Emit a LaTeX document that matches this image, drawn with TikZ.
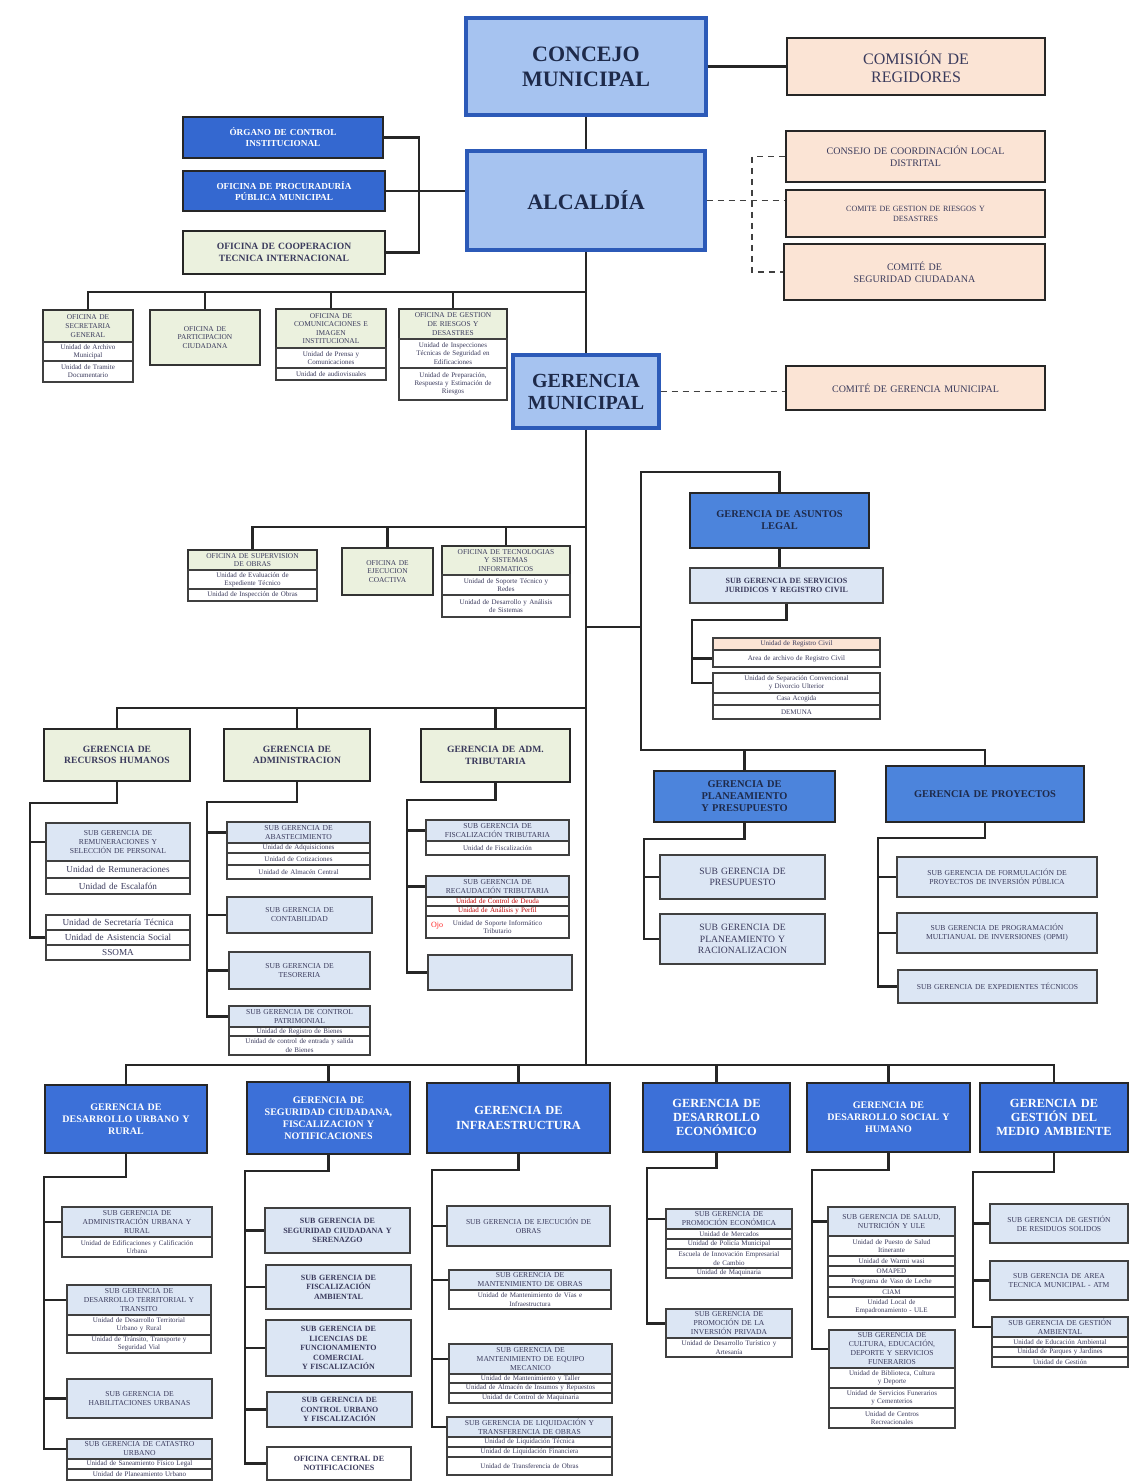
\documentclass[tikz,border=0pt]{standalone}
\usepackage{fontspec}
\setmainfont{Liberation Serif}
\usetikzlibrary{calc}
\definecolor{topfill}{HTML}{A6C3F0}
\definecolor{topedge}{HTML}{2C5AB8}
\definecolor{navy}{HTML}{1E2A4A}
\definecolor{dkblue}{HTML}{3468D0}
\definecolor{midblue}{HTML}{4C84DC}
\definecolor{gblue}{HTML}{3C70D8}
\definecolor{peach}{HTML}{FBE4D5}
\definecolor{cream}{HTML}{EBF1DE}
\definecolor{ltblue}{HTML}{DCE6F4}
\definecolor{txt}{HTML}{3A3A5C}
\newcommand\bx[7]{%
  \pgfmathsetmacro\bxw{(#5-#3)*0.5}%
  \pgfmathsetmacro\bxh{(#6-#4)*0.5}%
  \node[#1, minimum width=\bxw pt, minimum height=\bxh pt, text width=\bxw pt-2pt] (#2) at ({(#3+#5)/2},{(#4+#6)/2}) {#7};}
\tikzset{
  conn/.style={line width=1.4pt, draw=black!85},
  dsh/.style={line width=0.8pt, draw=black!75, dash pattern=on 3pt off 2.5pt},
  base/.style={draw, align=center, inner xsep=1pt, inner ysep=0pt},
  topb/.style={base, fill=topfill, draw=topedge, line width=1.6pt, text=navy, font=\bfseries\fontsize{11}{12.5}\selectfont},
  topm/.style={topb, font=\bfseries\fontsize{10}{11}\selectfont},
  dkb/.style={base, fill=dkblue, draw=black!85, line width=1.3pt, text=white, font=\bfseries\fontsize{4.6}{5.6}\selectfont},
  pch/.style={base, fill=peach, draw=black!85, line width=1.3pt, text=txt, font=\fontsize{5}{6.2}\selectfont},
  pchL/.style={pch, font=\fontsize{8}{9}\selectfont},
  pchS/.style={pch, font=\fontsize{4}{5}\selectfont},
  crm/.style={base, fill=cream, draw=black!85, line width=1.2pt, text=txt, font=\bfseries\fontsize{4.8}{5.8}\selectfont},
  crs/.style={base, fill=cream, draw=black!80, line width=0.8pt, text=txt, font=\fontsize{3.7}{4.3}\selectfont},
  lb/.style={base, fill=ltblue, draw=black!75, line width=0.9pt, text=txt, font=\fontsize{3.8}{4.5}\selectfont},
  lbM/.style={lb, font=\fontsize{4.8}{5.8}\selectfont},
  lbb/.style={lb, font=\bfseries\fontsize{4}{4.8}\selectfont},
  un/.style={base, fill=white, draw=black!75, line width=0.6pt, text=txt, font=\fontsize{3.5}{4.1}\selectfont},
  unL/.style={un, font=\fontsize{4.6}{5.4}\selectfont},
  mb/.style={base, fill=midblue, draw=black!85, line width=1.4pt, text=navy, font=\bfseries\fontsize{5.2}{6}\selectfont},
  gb/.style={base, fill=gblue, draw=black!85, line width=1.4pt, text=white, font=\bfseries\fontsize{5}{6}\selectfont},
  gbL/.style={gb, font=\bfseries\fontsize{6.2}{7.2}\selectfont},
}
\begin{document}
\begin{tikzpicture}[x=0.5pt,y=-0.5pt]
\useasboundingbox (0,0) rectangle (1130,1482);
\fill[white] (0,0) rectangle (1130,1482);

% ---- top level
\bx{topb}{con}{466}{18}{706}{115}{CONCEJO\\MUNICIPAL}
\bx{pchL}{com}{787}{38}{1045}{95}{COMISIÓN DE\\REGIDORES}
\bx{topb}{alc}{467}{151}{705}{250}{ALCALDÍA}
\bx{dkb}{org}{183}{117}{383}{158}{ÓRGANO DE CONTROL\\INSTITUCIONAL}
\bx{dkb}{proc}{183}{171}{385}{211}{OFICINA DE PROCURADURÍA\\PÚBLICA MUNICIPAL}
\bx{crm}{coop}{183}{231}{385}{274}{OFICINA DE COOPERACION\\TECNICA INTERNACIONAL}
\bx{pch}{ccl}{786}{131}{1045}{182}{CONSEJO DE COORDINACIÓN LOCAL\\DISTRITAL}
\bx{pchS}{cgr}{786}{190}{1045}{237}{COMITE DE GESTION DE RIESGOS Y\\DESASTRES}
\bx{pch}{csc}{784}{244}{1045}{300}{COMITÉ DE\\SEGURIDAD CIUDADANA}

% ---- offices under alcaldia
\bx{crs}{sec}{43}{310}{133}{342}{OFICINA DE\\SECRETARIA\\GENERAL}
\bx{un}{sec1}{43}{342}{133}{361}{Unidad de Archivo\\Municipal}
\bx{un}{sec2}{43}{361}{133}{382}{Unidad de Tramite\\Documentario}
\bx{crs}{par}{150}{310}{260}{365}{OFICINA DE\\PARTICIPACION\\CIUDADANA}
\bx{crs}{ci}{276}{309}{386}{348}{OFICINA DE\\COMUNICACIONES E\\IMAGEN\\INSTITUCIONAL}
\bx{un}{ci1}{276}{348}{386}{368}{Unidad de Prensa y\\Comunicaciones}
\bx{un}{ci2}{276}{368}{386}{380}{Unidad de audiovisuales}
\bx{crs}{grd}{399}{309}{507}{339}{OFICINA DE GESTION\\DE RIESGOS Y\\DESASTRES}
\bx{un}{grd1}{399}{339}{507}{368}{Unidad de Inspecciones\\Técnicas de Seguridad en\\Edificaciones}
\bx{un}{grd2}{399}{368}{507}{400}{Unidad de Preparación,\\Respuesta y Estimación de\\Riesgos}

\bx{topm}{gm}{513}{355}{659}{428}{GERENCIA\\MUNICIPAL}
\bx{pch}{cgm}{786}{366}{1045}{410}{COMITÉ DE GERENCIA MUNICIPAL}

% ---- offices under gerencia municipal
\bx{crs}{sup}{188}{550}{317}{570}{OFICINA DE SUPERVISION\\DE OBRAS}
\bx{un}{sup1}{188}{570}{317}{589}{Unidad de Evaluación de\\Expediente Técnico}
\bx{un}{sup2}{188}{589}{317}{601}{Unidad de Inspección de Obras}
\bx{crs}{eco}{342}{548}{433}{595}{OFICINA DE\\EJECUCION\\COACTIVA}
\bx{crs}{tec}{442}{546}{570}{575}{OFICINA DE TECNOLOGIAS\\Y SISTEMAS\\INFORMATICOS}
\bx{un}{tec1}{442}{575}{570}{595}{Unidad de Soporte Técnico y\\Redes}
\bx{un}{tec2}{442}{595}{570}{617}{Unidad de Desarrollo y Análisis\\de Sistemas}

% ---- asuntos legales
\bx{mb}{leg}{690}{493}{869}{548}{GERENCIA DE ASUNTOS\\LEGAL}
\bx{lbb}{sjr}{690}{568}{883}{603}{SUB GERENCIA DE SERVICIOS\\JURIDICOS Y REGISTRO CIVIL}
\bx{un, fill=peach}{rc}{713}{638}{880}{650}{Unidad de Registro Civil}
\bx{un}{arc}{713}{650}{880}{667}{Area de archivo de Registro Civil}
\bx{un}{usc}{713}{673}{880}{693}{Unidad de Separación Convencional\\y Divorcio Ulterior}
\bx{un}{cas}{713}{693}{880}{705}{Casa Acogida}
\bx{un}{dem}{713}{705}{880}{719}{DEMUNA}

% ---- recursos humanos
\bx{crm}{rh}{44}{729}{190}{781}{GERENCIA DE\\RECURSOS HUMANOS}
\bx{lb}{rem}{46}{823}{190}{861}{SUB GERENCIA DE\\REMUNERACIONES Y\\SELECCIÓN DE PERSONAL}
\bx{unL}{rem1}{46}{861}{190}{878}{Unidad de Remuneraciones}
\bx{unL}{rem2}{46}{878}{190}{894}{Unidad de Escalafón}
\bx{unL}{st}{46}{915}{190}{930}{Unidad de Secretaría Técnica}
\bx{unL}{as}{46}{930}{190}{945}{Unidad de Asistencia Social}
\bx{unL}{ss}{46}{945}{190}{960}{SSOMA}

% ---- administracion
\bx{crm}{adm}{224}{729}{370}{781}{GERENCIA DE\\ADMINISTRACION}
\bx{lb}{ab}{227}{822}{370}{843}{SUB GERENCIA DE\\ABASTECIMIENTO}
\bx{un}{ab1}{227}{843}{370}{853}{Unidad de Adquisiciones}
\bx{un}{ab2}{227}{853}{370}{865}{Unidad de Cotizaciones}
\bx{un}{ab3}{227}{865}{370}{879}{Unidad de Almacén Central}
\bx{lb}{cont}{227}{897}{372}{933}{SUB GERENCIA DE\\CONTABILIDAD}
\bx{lb}{tes}{229}{952}{370}{989}{SUB GERENCIA DE\\TESORERIA}
\bx{lb}{cp}{229}{1006}{370}{1027}{SUB GERENCIA DE CONTROL\\PATRIMONIAL}
\bx{un}{cp1}{229}{1027}{370}{1036}{Unidad de Registro de Bienes}
\bx{un}{cp2}{229}{1036}{370}{1055}{Unidad de control de entrada y salida\\de Bienes}

% ---- tributaria
\bx{crm}{trib}{421}{729}{570}{782}{GERENCIA DE ADM.\\TRIBUTARIA}
\bx{lb}{ft}{426}{820}{569}{841}{SUB GERENCIA DE\\FISCALIZACIÓN TRIBUTARIA}
\bx{un}{ft1}{426}{841}{569}{855}{Unidad de Fiscalización}
\bx{lb}{rtr}{426}{876}{569}{897}{SUB GERENCIA DE\\RECAUDACIÓN TRIBUTARIA}
\bx{un, text=red!75!black}{rt1}{426}{897}{569}{906}{Unidad de Control de Deuda}
\bx{un, text=red!75!black}{rt2}{426}{906}{569}{916}{Unidad de Análisis y Perfil}
\bx{un}{rt3}{426}{916}{569}{938}{Unidad de Soporte Informático\\Tributario}
\node[font=\fontsize{4}{5}\selectfont, text=red!85, inner sep=0pt] (ojo) at (437,926) {Ojo};
\bx{lb}{emp}{428}{955}{572}{990}{}

% ---- planeamiento / proyectos
\bx{mb}{plan}{654}{771}{835}{822}{GERENCIA DE\\PLANEAMIENTO\\Y PRESUPUESTO}
\bx{lbM}{pre}{660}{855}{825}{899}{SUB GERENCIA DE\\PRESUPUESTO}
\bx{lbM}{rac}{660}{914}{825}{964}{SUB GERENCIA DE\\PLANEAMIENTO Y\\RACIONALIZACION}
\bx{mb}{proy}{886}{766}{1084}{822}{GERENCIA DE PROYECTOS}
\bx{lb}{fpi}{897}{857}{1097}{897}{SUB GERENCIA DE FORMULACIÓN DE\\PROYECTOS DE INVERSIÓN PÚBLICA}
\bx{lb}{opmi}{897}{913}{1097}{953}{SUB GERENCIA DE PROGRAMACIÓN\\MULTIANUAL DE INVERSIONES (OPMI)}
\bx{lb}{exp}{898}{970}{1097}{1003}{SUB GERENCIA DE EXPEDIENTES TÉCNICOS}

% ---- bottom gerencias
\bx{gb}{dur}{45}{1085}{207}{1153}{GERENCIA DE\\DESARROLLO URBANO Y\\RURAL}
\bx{gb}{seg}{247}{1082}{410}{1154}{GERENCIA DE\\SEGURIDAD CIUDADANA,\\FISCALIZACION Y\\NOTIFICACIONES}
\bx{gbL}{inf}{427}{1083}{610}{1153}{GERENCIA DE\\INFRAESTRUCTURA}
\bx{gbL}{dec}{643}{1083}{790}{1152}{GERENCIA DE\\DESARROLLO\\ECONÓMICO}
\bx{gb}{dsh}{807}{1083}{970}{1152}{GERENCIA DE\\DESARROLLO SOCIAL Y\\HUMANO}
\bx{gbL}{gma}{980}{1083}{1128}{1152}{GERENCIA DE\\GESTIÓN DEL\\MEDIO AMBIENTE}

% col 1
\bx{lb}{aur}{62}{1207}{212}{1237}{SUB GERENCIA DE\\ADMINISTRACIÓN URBANA Y\\RURAL}
\bx{un}{aur1}{62}{1237}{212}{1257}{Unidad de Edificaciones y Calificación\\Urbana}
\bx{lb}{dtt}{67}{1285}{211}{1315}{SUB GERENCIA DE\\DESARROLLO TERRITORIAL Y\\TRANSITO}
\bx{un}{dtt1}{67}{1315}{211}{1335}{Unidad de Desarrollo Territorial\\Urbano y Rural}
\bx{un}{dtt2}{67}{1335}{211}{1353}{Unidad de Tránsito, Transporte y\\Seguridad Vial}
\bx{lb}{hab}{67}{1379}{212}{1418}{SUB GERENCIA DE\\HABILITACIONES URBANAS}
\bx{lb}{cat}{67}{1439}{212}{1459}{SUB GERENCIA DE CATASTRO\\URBANO}
\bx{un}{cat1}{67}{1459}{212}{1469}{Unidad de Saneamiento Físico Legal}
\bx{un}{cat2}{67}{1469}{212}{1480}{Unidad de Planeamiento Urbano}

% col 2
\bx{lbb}{ser}{265}{1208}{410}{1253}{SUB GERENCIA DE\\SEGURIDAD CIUDADANA Y\\SERENAZGO}
\bx{lbb}{fam}{266}{1265}{411}{1309}{SUB GERENCIA DE\\FISCALIZACIÓN\\AMBIENTAL}
\bx{lbb}{lic}{266}{1320}{411}{1376}{SUB GERENCIA DE\\LICENCIAS DE\\FUNCIONAMIENTO\\COMERCIAL\\Y FISCALIZACIÓN}
\bx{lbb}{cur}{267}{1392}{412}{1427}{SUB GERENCIA DE\\CONTROL URBANO\\Y FISCALIZACIÓN}
\bx{lbb, fill=white}{ocn}{267}{1447}{411}{1480}{OFICINA CENTRAL DE\\NOTIFICACIONES}

% col 3
\bx{lb}{eob}{447}{1206}{610}{1246}{SUB GERENCIA DE EJECUCIÓN DE\\OBRAS}
\bx{lb}{mob}{449}{1270}{611}{1290}{SUB GERENCIA DE\\MANTENIMIENTO DE OBRAS}
\bx{un}{mob1}{449}{1290}{611}{1309}{Unidad de Mantenimiento de Vías e\\Infraestructura}
\bx{lb}{meq}{449}{1344}{612}{1374}{SUB GERENCIA DE\\MANTENIMIENTO DE EQUIPO\\MECANICO}
\bx{un}{meq1}{449}{1374}{612}{1383}{Unidad de Mantenimiento y Taller}
\bx{un}{meq2}{449}{1383}{612}{1393}{Unidad de Almacén de Insumos y Repuestos}
\bx{un}{meq3}{449}{1393}{612}{1403}{Unidad de Control de Maquinaria}
\bx{lb}{liq}{447}{1417}{612}{1437}{SUB GERENCIA DE LIQUIDACIÓN Y\\TRANSFERENCIA DE OBRAS}
\bx{un}{liq1}{447}{1437}{612}{1447}{Unidad de Liquidación Técnica}
\bx{un}{liq2}{447}{1447}{612}{1457}{Unidad de Liquidación Financiera}
\bx{un}{liq3}{447}{1457}{612}{1475}{Unidad de Transferencia de Obras}

% col 4
\bx{lb}{pec}{666}{1209}{792}{1229}{SUB GERENCIA DE\\PROMOCIÓN ECONÓMICA}
\bx{un}{pec1}{666}{1229}{792}{1239}{Unidad de Mercados}
\bx{un}{pec2}{666}{1239}{792}{1249}{Unidad de Policía Municipal}
\bx{un}{pec3}{666}{1249}{792}{1268}{Escuela de Innovación Empresarial\\de Cambio}
\bx{un}{pec4}{666}{1268}{792}{1278}{Unidad de Maquinaria}
\bx{lb}{pip}{666}{1309}{792}{1338}{SUB GERENCIA DE\\PROMOCIÓN DE LA\\INVERSIÓN PRIVADA}
\bx{un}{pip1}{666}{1338}{792}{1357}{Unidad de Desarrollo Turístico y\\Artesanía}

% col 5
\bx{lb}{sal}{828}{1207}{955}{1236}{SUB GERENCIA DE SALUD,\\NUTRICIÓN Y ULE}
\bx{un}{sal1}{828}{1236}{955}{1256}{Unidad de Puesto de Salud\\Itinerante}
\bx{un}{sal2}{828}{1256}{955}{1266}{Unidad de Warmi wasi}
\bx{un}{sal3}{828}{1266}{955}{1276}{OMAPED}
\bx{un}{sal4}{828}{1276}{955}{1287}{Programa de Vaso de Leche}
\bx{un}{sal5}{828}{1287}{955}{1297}{CIAM}
\bx{un}{sal6}{828}{1297}{955}{1317}{Unidad Local de\\Empadronamiento - ULE}
\bx{lb}{cul}{829}{1330}{955}{1368}{SUB GERENCIA DE\\CULTURA, EDUCACIÓN,\\DEPORTE Y SERVICIOS\\FUNERARIOS}
\bx{un}{cul1}{829}{1368}{955}{1388}{Unidad de Biblioteca, Cultura\\y Deporte}
\bx{un}{cul2}{829}{1388}{955}{1408}{Unidad de Servicios Funerarios\\y Cementerios}
\bx{un}{cul3}{829}{1408}{955}{1428}{Unidad de Centros\\Recreacionales}

% col 6
\bx{lb}{rso}{990}{1204}{1128}{1243}{SUB GERENCIA DE GESTIÓN\\DE RESIDUOS SOLIDOS}
\bx{lb}{atm}{990}{1261}{1128}{1300}{SUB GERENCIA DE AREA\\TECNICA MUNICIPAL - ATM}
\bx{lb}{gam}{992}{1317}{1128}{1337}{SUB GERENCIA DE GESTIÓN\\AMBIENTAL}
\bx{un}{gam1}{992}{1337}{1128}{1347}{Unidad de Educación Ambiental}
\bx{un}{gam2}{992}{1347}{1128}{1357}{Unidad de Parques y Jardines}
\bx{un}{gam3}{992}{1357}{1128}{1367}{Unidad de Gestión}

% ================= connectors
\coordinate (brk) at (419,0);
\coordinate (dv) at (752,0);
\coordinate (busO) at (586,292);
\coordinate (busM) at (586,527);
\coordinate (rj) at (586,627);
\coordinate (rtop) at (641,472);
\coordinate (rbot) at (641,750);
\coordinate (busL) at (586,708);
\coordinate (busB) at (586,1065);

\draw[conn] (con.east) -- (com.west);
\draw[conn] (con.south) -- (alc.north);
\draw[conn] (alc.south) -- (gm.north);
\draw[conn] (gm.south) -- (busB);
\draw[conn] (org.east) -| (brk |- coop.east) -- (coop.east);
\draw[conn] (proc.east) -- (proc.east -| alc.west);
\draw[dsh] (alc.east) -- (alc.east -| cgr.west);
\draw[dsh] (ccl.west) -| (dv |- csc.west) -- (csc.west);
\draw[dsh] (gm.east) -- (gm.east -| cgm.west);

\draw[conn] (sec.north) |- (busO);
\draw[conn] (par.north) -- (par.north |- busO);
\draw[conn] (ci.north) -- (ci.north |- busO);
\draw[conn] (grd.north) -- (grd.north |- busO);

\draw[conn] (sup.north) |- (busM);
\draw[conn] (eco.north) -- (eco.north |- busM);
\draw[conn] (tec.north) -- (tec.north |- busM);

\draw[conn] (rj) -- (rj -| rtop);
\draw[conn] (leg.north) |- (rtop) -- (rbot) -| (proy.north);
\draw[conn] (plan.north) -- (plan.north |- rbot);
\draw[conn] (leg.south) -- (leg.south |- sjr.north);
\coordinate (sjT) at (692,620);
\draw[conn] (sjr.south) |- (sjT) |- (usc.west);
\draw[conn] (arc.west -| sjT) -- (arc.west);

\draw[conn] (rh.north) |- (busL);
\draw[conn] (adm.north) -- (adm.north |- busL);
\draw[conn] (trib.north) -- (trib.north |- busL);

\coordinate (rhT) at (30,803);
\draw[conn] (rh.south) |- (rhT) |- (as.west);
\draw[conn] (rem.west -| rhT) -- (rem.west);
\coordinate (admT) at (207,802);
\draw[conn] (adm.south) |- (admT) |- (cp.west);
\foreach \n in {ab,cont,tes} \draw[conn] (\n.west -| admT) -- (\n.west);
\coordinate (trT) at (407,800);
\draw[conn] (trib.south) |- (trT) |- (emp.west);
\foreach \n in {ft,rtr} \draw[conn] (\n.west -| trT) -- (\n.west);
\coordinate (plT) at (644,839);
\draw[conn] (plan.south) |- (plT) |- (rac.west);
\draw[conn] (pre.west -| plT) -- (pre.west);
\coordinate (pyT) at (878,838);
\draw[conn] (proy.south) |- (pyT) |- (exp.west);
\foreach \n in {fpi,opmi} \draw[conn] (\n.west -| pyT) -- (\n.west);

\draw[conn] (dur.north) |- (busB);
\draw[conn] (gma.north) |- (busB);
\foreach \n in {seg,inf,dec,dsh} \draw[conn] (\n.north) -- (\n.north |- busB);

\coordinate (c1T) at (44,1177);
\draw[conn] (dur.south) |- (c1T) |- (cat.west);
\foreach \n in {aur,dtt,hab} \draw[conn] (\n.west -| c1T) -- (\n.west);
\coordinate (c2T) at (245,1171);
\draw[conn] (seg.south) |- (c2T) |- (ocn.west);
\foreach \n in {ser,fam,lic,cur} \draw[conn] (\n.west -| c2T) -- (\n.west);
\coordinate (c3T) at (432,1170);
\draw[conn] (inf.south) |- (c3T) |- (liq.west);
\foreach \n in {eob,mob,meq} \draw[conn] (\n.west -| c3T) -- (\n.west);
\coordinate (c4T) at (647,1168);
\draw[conn] (dec.south) |- (c4T) |- (pip.west);
\draw[conn] (pec.west -| c4T) -- (pec.west);
\coordinate (c5T) at (812,1170);
\draw[conn] (dsh.south) |- (c5T) |- (cul.west);
\draw[conn] (sal.west -| c5T) -- (sal.west);
\coordinate (c6T) at (973,1172);
\draw[conn] (gma.south) |- (c6T) |- (gam.west);
\foreach \n in {rso,atm} \draw[conn] (\n.west -| c6T) -- (\n.west);
\end{tikzpicture}
\end{document}
